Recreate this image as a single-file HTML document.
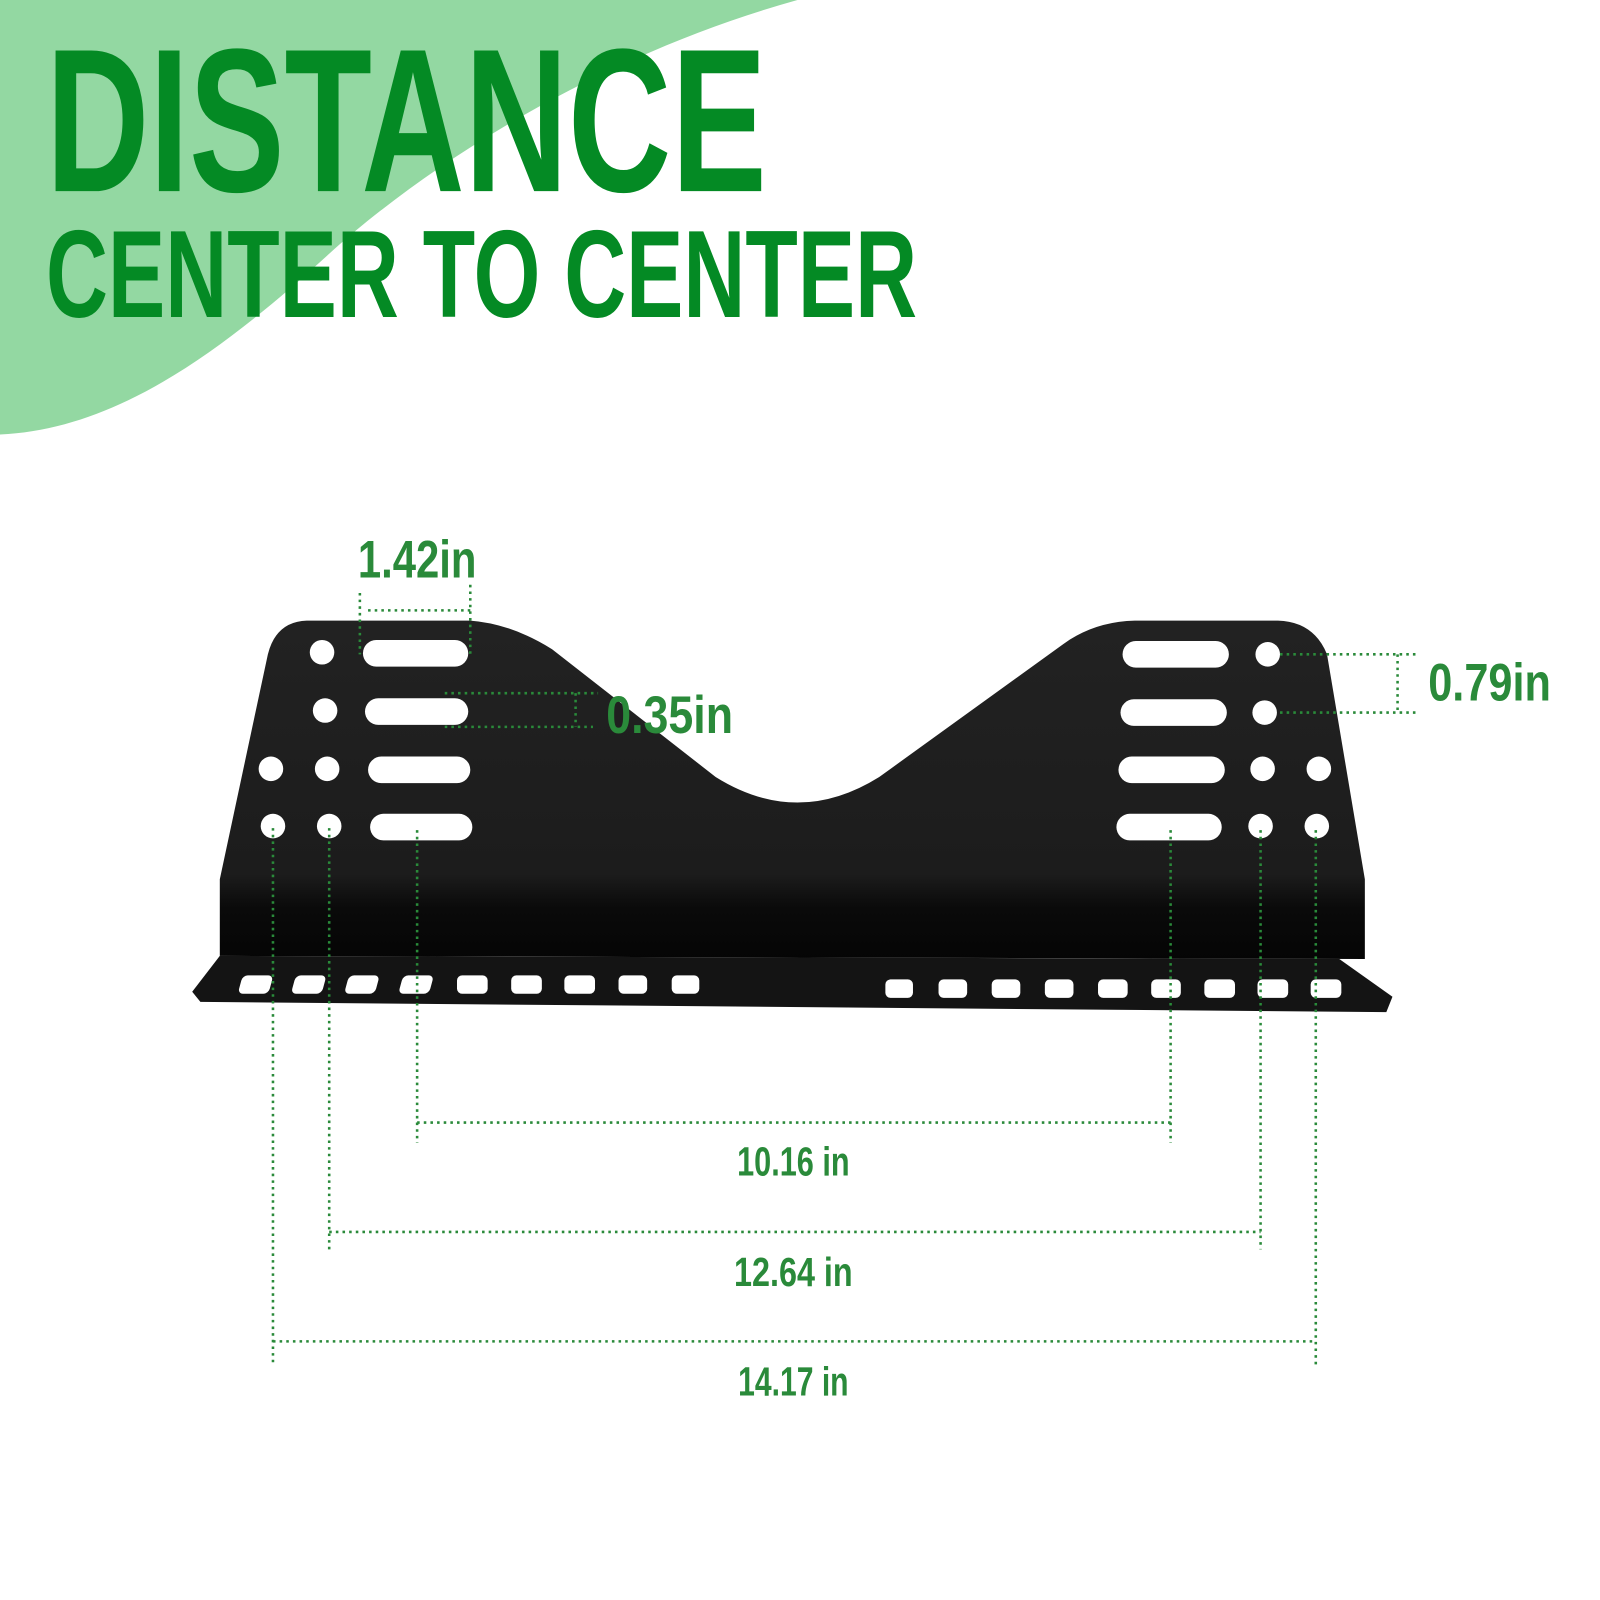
<!DOCTYPE html>
<html><head><meta charset="utf-8"><style>html,body{margin:0;padding:0;background:#fff}svg{display:block}</style></head>
<body>
<svg width="1600" height="1600" viewBox="0 0 1565 1565" xmlns="http://www.w3.org/2000/svg">
<defs>
<linearGradient id="g" x1="0" y1="0" x2="0" y2="1">
<stop offset="0" stop-color="#222"/><stop offset="0.75" stop-color="#1c1c1c"/><stop offset="0.85" stop-color="#0a0a0a"/><stop offset="1" stop-color="#050505"/>
</linearGradient>
</defs>
<path d="M0,0 L780,0 C600,50 430,150 320,250 C210,350 110,420 0,425 Z" fill="#93d8a2"/>
<g font-family="'Liberation Sans Narrow','Liberation Sans',sans-serif" font-weight="bold" fill="#048a24">
<text x="45" y="187" font-size="200" textLength="705" lengthAdjust="spacingAndGlyphs">DISTANCE</text>
<text x="45" y="310" font-size="122" textLength="852" lengthAdjust="spacingAndGlyphs">CENTER TO CENTER</text>
</g>
<!-- bracket -->
<path d="M215,935 L1310,938 L1362,975 L1356,990 L196,980 L188,970 Z" fill="#141414"/>
<path d="M215,935 L215,860 L262,640 Q270,608 300,607 L460,607 Q500,610 540,635 L700,760 Q780,810 860,760 L1040,630 Q1070,608 1110,607 L1250,607 Q1285,608 1298,640 L1335,860 L1335,938 Z" fill="url(#g)"/>
<g fill="#fff">
<circle cx="315" cy="638" r="12"/><circle cx="318" cy="695" r="12"/>
<circle cx="265" cy="752" r="12"/><circle cx="320" cy="752" r="12"/>
<circle cx="267" cy="808" r="12"/><circle cx="322" cy="808" r="12"/>
<rect x="355" y="626" width="103" height="26" rx="13"/>
<rect x="357" y="683" width="101" height="26" rx="13"/>
<rect x="360" y="740" width="100" height="26" rx="13"/>
<rect x="362" y="796" width="100" height="26" rx="13"/>
<rect x="1098" y="627" width="104" height="26" rx="13"/>
<rect x="1096" y="684" width="104" height="26" rx="13"/>
<rect x="1094" y="740" width="104" height="26" rx="13"/>
<rect x="1092" y="796" width="103" height="26" rx="13"/>
<circle cx="1240" cy="640" r="12"/><circle cx="1237" cy="697" r="12"/>
<circle cx="1235" cy="752" r="12"/><circle cx="1290" cy="752" r="12"/>
<circle cx="1233" cy="808" r="12"/><circle cx="1288" cy="808" r="12"/>
<g transform="skewX(-15)">
<rect x="493" y="954" width="30" height="18" rx="5"/>
<rect x="545" y="954" width="30" height="18" rx="5"/>
<rect x="597" y="954" width="30" height="18" rx="5"/>
<rect x="650" y="954" width="30" height="18" rx="5"/>
</g>
<rect x="447" y="954" width="30" height="18" rx="5"/>
<rect x="500" y="954" width="30" height="18" rx="5"/>
<rect x="552" y="954" width="30" height="18" rx="5"/>
<rect x="605" y="954" width="28" height="18" rx="5"/>
<rect x="657" y="954" width="27" height="18" rx="5"/>
<rect x="866" y="958" width="27" height="18" rx="5"/>
<rect x="918" y="958" width="28" height="18" rx="5"/>
<rect x="970" y="958" width="28" height="18" rx="5"/>
<rect x="1022" y="958" width="28" height="18" rx="5"/>
<rect x="1074" y="958" width="29" height="18" rx="5"/>
<rect x="1126" y="958" width="29" height="18" rx="5"/>
<rect x="1178" y="958" width="30" height="18" rx="5"/>
<rect x="1230" y="958" width="30" height="18" rx="5"/>
<rect x="1282" y="958" width="30" height="18" rx="5"/>
</g>
<!-- dimension lines -->
<g stroke="#2a8a3a" stroke-width="2.5" stroke-dasharray="2.5 4" fill="none">
<path d="M267,810V1335 M322,810V1222 M408,812V1118 M1145,812V1118 M1233,812V1222 M1287,812V1335"/>
<path d="M408,1098H1145 M322,1205H1233 M267,1312H1287"/>
<path d="M352,580V640 M460,572V640 M360,597H460"/>
<path d="M435,678H585 M435,711H580 M563,678V711"/>
<path d="M1252,640H1385 M1252,697H1385 M1367,640V697"/>
</g>
<g font-family="'Liberation Sans Narrow','Liberation Sans',sans-serif" font-weight="bold" fill="#2a8a3a">
<text x="776" y="1150" font-size="40" text-anchor="middle" textLength="110" lengthAdjust="spacingAndGlyphs">10.16 in</text>
<text x="776" y="1258" font-size="40" text-anchor="middle" textLength="116" lengthAdjust="spacingAndGlyphs">12.64 in</text>
<text x="776" y="1365" font-size="40" text-anchor="middle" textLength="108" lengthAdjust="spacingAndGlyphs">14.17 in</text>
<text x="350" y="565" font-size="52" textLength="116" lengthAdjust="spacingAndGlyphs">1.42in</text>
<text x="593" y="717" font-size="52" textLength="124" lengthAdjust="spacingAndGlyphs">0.35in</text>
<text x="1397" y="685" font-size="52" textLength="120" lengthAdjust="spacingAndGlyphs">0.79in</text>
</g>
</svg>
</body></html>
